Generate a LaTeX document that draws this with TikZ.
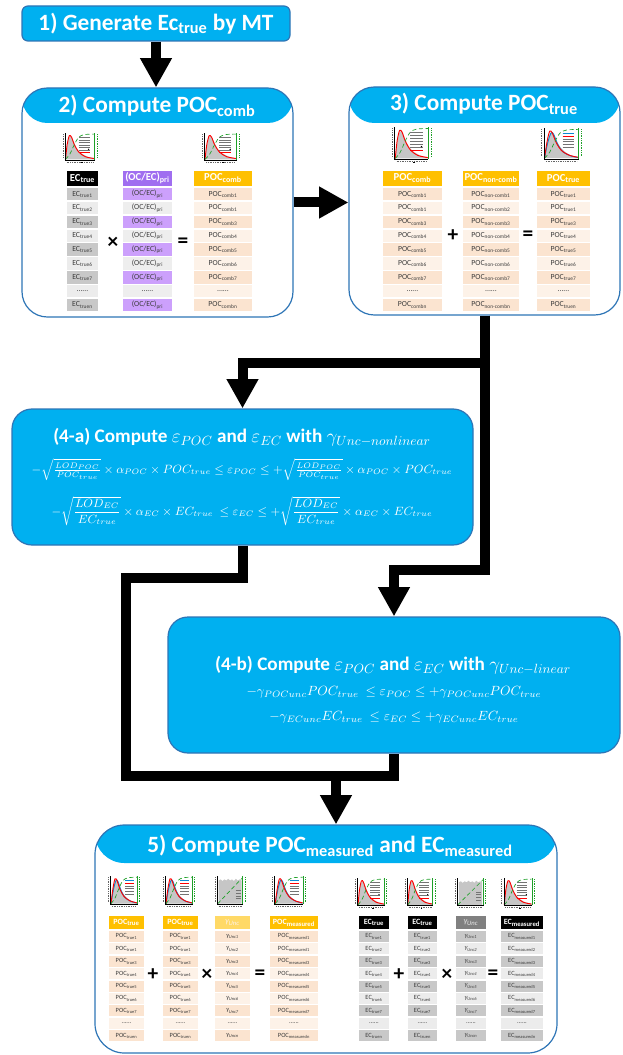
\documentclass[tikz,border=0pt]{standalone}
\usepackage{amsmath}
\usepackage{fontspec}
\setmainfont{Carlito}
\usetikzlibrary{arrows.meta}
\definecolor{cy}{RGB}{0,176,240}
\definecolor{bd}{RGB}{46,117,182}
\definecolor{org}{RGB}{255,192,0}
\definecolor{pch1}{RGB}{251,228,208}
\definecolor{pch2}{RGB}{253,242,232}
\definecolor{gr1}{RGB}{200,200,200}
\definecolor{gr2}{RGB}{236,236,236}
\definecolor{pu}{RGB}{160,110,240}
\definecolor{pu1}{RGB}{204,160,252}
\definecolor{pu2}{RGB}{238,238,238}
\definecolor{ylw}{RGB}{255,217,102}
\definecolor{dgr}{RGB}{128,128,128}
\definecolor{celltxt}{RGB}{60,60,60}
\definecolor{grn}{RGB}{30,160,40}
\newcommand\mysb[2]{#1\textsubscript{#2}}
\newcommand\gu[1]{\textit{γ\textsubscript{Unc#1}}}
\newcommand\dts{......}
\def\hdfont{\bfseries\fontsize{8}{9}\selectfont}
\def\cellfont{\fontsize{5.8}{6.5}\selectfont}
\def\hh{15}\def\gp{2}\def\pitch{13.85}\def\ch{12.5}
\tikzset{
 conn/.style={line width=7.5pt,draw=black},
 tipd/.style={-{Triangle[width=22.5pt,length=22pt]}},
 hdr/.style={inner sep=0,outer sep=0,text=white,font=\hdfont},
 cell/.style={inner sep=0,outer sep=0,text=celltxt,font=\cellfont},
 ttl/.style={text=white,font=\bfseries\fontsize{17.5}{20}\selectfont,inner sep=0},
 opr/.style={font=\bfseries\fontsize{16}{16}\selectfont,inner sep=0},
 bigbox/.style={draw=bd,line width=0.9pt,fill=white,inner sep=0},
 hband/.style={path picture={\fill[cy] (path picture bounding box.north west) rectangle ([yshift=-#1]path picture bounding box.north east);}},
 cybox/.style={draw=bd,fill=cy,line width=0.9pt,inner sep=0},
 eqn/.style={text=white,inner sep=0},
}
% column: name, xl, xr, ytop, header, rows
\newcommand\tcol[6]{%
 \pgfmathsetmacro\cw{(#3-#2)*0.75}%
 \pgfmathsetmacro\xc{(#2+#3)/2}%
 \pgfmathsetmacro\yh{#4+\hh/2}%
 \node[hdr,fill=\hdfill,text=\hdtxt,minimum width=\cw pt,minimum height=\hh*0.75pt] (#1-h) at (\xc,\yh) {#5};
 \foreach \rt [count=\ri] in {#6}{%
   \pgfmathsetmacro\yy{#4+\hh+\gp+(\ri-1)*\pitch+\ch/2}%
   \ifodd\ri\def\cf{\oddfill}\else\def\cf{\evenfill}\fi
   \node[cell,fill=\cf,minimum width=\cw pt,minimum height=\ch*0.75pt] (#1-\ri) at (\xc,\yy) {\rt};
 }%
}
% thumbnails: x y xscale yscale
\newcommand\thA[4]{\begin{scope}[shift={(#1,#2)},xscale=#3,yscale=#4]
 \fill[gray!45] plot[smooth] coordinates {(5,26) (6.5,14) (8,6) (10,4) (12,8) (15,15) (19,20) (25,23.5) (31,25)} -- (31,26) -- cycle;
 \draw[red,line width=0.7pt] plot[smooth] coordinates {(5,26) (6.5,12) (8.5,3.5) (10.5,5) (13,12) (17,19) (23,23.5) (31,25.3)};
 \draw[grn,densely dashed,line width=0.5pt] plot[smooth] coordinates {(5,26) (9,21) (13,12) (17,5) (22,2.5) (31,2)};
 \draw[line width=0.35pt] (4.5,1)--(4.5,26.5)--(31.5,26.5);
 \draw[grn,line width=0.7pt] (31.5,1)--(31.5,26.5);
 \foreach \k in {0,1,2,3,4,5}{\draw[black!55,line width=0.25pt] (17,5+2.4*\k)--(27,5+2.4*\k);}
 \draw[red,line width=0.4pt] (17,19.4)--(27,19.4);
 \fill (26,16.5) circle (0.5pt);
 \draw[grn,densely dotted,line width=0.3pt] (33.5,2)--(33.5,25);
 \draw[black!60,densely dotted,line width=0.3pt] (2.5,2)--(2.5,25);
 \draw[black!60,densely dotted,line width=0.3pt] (6,28.5)--(30,28.5);
 \fill (19,30) rectangle (20.5,28.5);
\end{scope}}
\newcommand\thB[4]{\begin{scope}[shift={(#1,#2)},xscale=#3,yscale=#4]
 \fill[gray!45] plot[smooth] coordinates {(5,26) (7,14) (9,6) (11,4) (13,8) (16,15) (20,20) (25,23.5) (31,25)} -- (31,26) -- cycle;
 \draw[cyan!70!blue,line width=0.7pt] plot[smooth] coordinates {(5,26) (7.5,13) (10,5) (12,6) (15,14) (19,20.5) (25,24) (31,25.5)};
 \draw[red,line width=0.7pt] plot[smooth] coordinates {(5,26) (7,12) (9,3.5) (11,5) (14,13) (18,19.5) (24,23.5) (31,25.3)};
 \draw[grn,densely dashed,line width=0.5pt] plot[smooth] coordinates {(5,26) (9,21) (13,12) (17,5) (22,2.5) (31,2)};
 \draw[line width=0.35pt] (4.5,1)--(4.5,26.5)--(31.5,26.5);
 \draw[grn,line width=0.7pt] (31.5,1)--(31.5,26.5);
 \foreach \k in {0,1,2,3,4,5}{\draw[black!55,line width=0.25pt] (19,5+2.4*\k)--(28,5+2.4*\k);}
 \draw[cyan!70!blue,line width=0.4pt] (19,5)--(28,5);
 \draw[red,line width=0.4pt] (19,7.4)--(28,7.4);
 \draw[grn,densely dotted,line width=0.3pt] (33.5,2)--(33.5,25);
 \draw[black!60,densely dotted,line width=0.3pt] (2.5,2)--(2.5,25);
 \draw[black!60,densely dotted,line width=0.3pt] (6,28.5)--(30,28.5);
\end{scope}}
\newcommand\thC[4]{\begin{scope}[shift={(#1,#2)},xscale=#3,yscale=#4]
 \fill[gray!45] (6,26) -- (6,5) -- (8,4) -- (10,5.5) -- (12,4) -- (14,5) -- (16,3.5) -- (18,5) -- (20,4) -- (22,5.5) -- (24,3.5) -- (26,5) -- (28,4) -- (30,5) -- (30,26) -- cycle;
 \draw[grn,densely dashed,line width=0.5pt] (5,26) -- (31,2.5);
 \draw[line width=0.35pt] (4.5,1)--(4.5,26.5)--(31.5,26.5);
 \draw[grn,line width=0.7pt] (31.5,1)--(31.5,26.5);
 \draw[grn,densely dotted,line width=0.3pt] (33.5,2)--(33.5,25);
 \draw[black!60,densely dotted,line width=0.3pt] (2.5,2)--(2.5,25);
 \draw[black!60,densely dotted,line width=0.3pt] (6,28.5)--(30,28.5);
 \foreach \k in {0,1,2,3}{\draw[black!55,line width=0.25pt] (24,14+2.4*\k)--(29,14+2.4*\k);}
\end{scope}}
\begin{document}
\begin{tikzpicture}[x=0.75pt,y=-0.75pt]
\useasboundingbox (0,0) rectangle (622,1055);
% ---------- boxes
\node[cybox,rounded corners=4.5pt,minimum width=268*0.75pt,minimum height=35*0.75pt,text=white,font=\bfseries\fontsize{17.5}{20}\selectfont] (b1) at (156,23.5) {1) Generate \mysb{Ec}{true} by MT};
\node[bigbox,rounded corners=19pt,hband=26.25pt,minimum width=271*0.75pt,minimum height=229*0.75pt] (b2) at (157.5,202.5) {};
\node[bigbox,rounded corners=19pt,hband=27pt,minimum width=271*0.75pt,minimum height=228*0.75pt] (b3) at (484.5,201) {};
\node[cybox,rounded corners=15pt,minimum width=461*0.75pt,minimum height=136*0.75pt] (b4a) at (242.5,477) {};
\node[cybox,rounded corners=15pt,minimum width=452*0.75pt,minimum height=136*0.75pt] (b4b) at (394,685) {};
\node[bigbox,rounded corners=22pt,hband=28.5pt,minimum width=462*0.75pt,minimum height=228*0.75pt] (b5) at (326,939) {};
% ---------- titles
\node[ttl] (t2) at (157,106) {2) Compute \mysb{POC}{comb}};
\node[ttl] (t3) at (484,104) {3) Compute \mysb{POC}{true}};
\node[ttl] (t5) at (330,846) {5) Compute \mysb{POC}{measured} and \mysb{EC}{measured}};
% ---------- connectors
\draw[conn,tipd] (b1.south) -- (b1.south |- b2.north);
\draw[conn,tipd] (b2.east) -- (b2.east -| b3.west);
\draw[conn] (b3.south) -- ++(0,47) coordinate (j1);
\draw[conn,tipd] (j1) -| (b4a.north);
\draw[conn,tipd] (b3.south) -- ++(0,254) coordinate (j2) -| (b4b.north);
\coordinate (k1) at (126,578);
\coordinate (k2) at (126,776);
\coordinate (k3) at (336,776);
\draw[conn] (b4a.south) |- (k1) -- (k2) -| (b4b.south);
\draw[conn,tipd] (k3) -- (k3 |- b5.north);
% ---------- box 2 content
\thA{60}{132}{1.1}{1.05}
\thA{199}{132}{1.2}{1.05}
\def\hdfill{black}\def\hdtxt{white}\def\oddfill{gr1}\def\evenfill{gr2}
\tcol{ec}{67}{98}{171}{\mysb{EC}{true}}{\mysb{EC}{true1},\mysb{EC}{true2},\mysb{EC}{true3},\mysb{EC}{true4},\mysb{EC}{true5},\mysb{EC}{true6},\mysb{EC}{true7},\dts,\mysb{EC}{truen}}
\def\hdfill{pu}\def\hdtxt{white}\def\oddfill{pu1}\def\evenfill{pu2}
\tcol{oc}{123}{172}{171}{(OC/EC)\textsubscript{pri}}{(OC/EC)\textsubscript{pri},(OC/EC)\textsubscript{pri},(OC/EC)\textsubscript{pri},(OC/EC)\textsubscript{pri},(OC/EC)\textsubscript{pri},(OC/EC)\textsubscript{pri},(OC/EC)\textsubscript{pri},\dts,(OC/EC)\textsubscript{pri}}
\def\hdfill{org}\def\hdtxt{white}\def\oddfill{pch1}\def\evenfill{pch2}
\tcol{pc}{194}{252}{171}{\mysb{POC}{comb}}{\mysb{POC}{comb1},\mysb{POC}{comb1},\mysb{POC}{comb3},\mysb{POC}{comb4},\mysb{POC}{comb5},\mysb{POC}{comb6},\mysb{POC}{comb7},\dts,\mysb{POC}{combn}}
\node[opr] (o21) at (113,243) {×};
\node[opr] (o22) at (183,243) {=};
% ---------- box 3 content
\thA{389}{126}{1.25}{1.25}
\thB{538}{127}{1.3}{1.2}
\tcol{pa}{383}{442}{171}{\mysb{POC}{comb}}{\mysb{POC}{comb1},\mysb{POC}{comb1},\mysb{POC}{comb3},\mysb{POC}{comb4},\mysb{POC}{comb5},\mysb{POC}{comb6},\mysb{POC}{comb7},\dts,\mysb{POC}{combn}}
\tcol{pb}{463}{519}{171}{\mysb{POC}{non-comb}}{\mysb{POC}{non-comb1},\mysb{POC}{non-comb2},\mysb{POC}{non-comb3},\mysb{POC}{non-comb4},\mysb{POC}{non-comb5},\mysb{POC}{non-comb6},\mysb{POC}{non-comb7},\dts,\mysb{POC}{non-combn}}
\tcol{pt}{537}{590}{171}{\mysb{POC}{true}}{\mysb{POC}{true1},\mysb{POC}{true1},\mysb{POC}{true3},\mysb{POC}{true4},\mysb{POC}{true5},\mysb{POC}{true6},\mysb{POC}{true7},\dts,\mysb{POC}{truen}}
\node[opr] (o31) at (453,236) {+};
\node[opr] (o32) at (528,236) {=};
% ---------- box 4-a
\node[eqn,font=\bfseries\fontsize{14.4}{16}\selectfont] (t4a) at (242,437) {(4-a) Compute $\varepsilon_{POC}$ and $\varepsilon_{EC}$ with $\gamma_{Unc-nonlinear}$};
\node[eqn,font=\fontsize{9}{11}\selectfont] (e4a1) at (242,470) {$-\sqrt{\tfrac{LOD_{POC}}{POC_{true}}}\times\alpha_{POC}\times POC_{true}\le\varepsilon_{POC}\le+\sqrt{\tfrac{LOD_{POC}}{POC_{true}}}\times\alpha_{POC}\times POC_{true}$};
\node[eqn,font=\fontsize{9}{11}\selectfont] (e4a2) at (242,511) {$-\sqrt{\dfrac{LOD_{EC}}{EC_{true}}}\times\alpha_{EC}\times EC_{true}\ \le\varepsilon_{EC}\le+\sqrt{\dfrac{LOD_{EC}}{EC_{true}}}\times\alpha_{EC}\times EC_{true}$};
% ---------- box 4-b
\node[eqn,font=\bfseries\fontsize{14.4}{16}\selectfont] (t4b) at (393,665) {(4-b) Compute $\varepsilon_{POC}$ and $\varepsilon_{EC}$ with $\gamma_{Unc-linear}$};
\node[eqn,font=\fontsize{10}{12}\selectfont] (e4b1) at (394,692) {$-\gamma_{POCunc}POC_{true}\ \le\varepsilon_{POC}\le+\gamma_{POCunc}POC_{true}$};
\node[eqn,font=\fontsize{10}{12}\selectfont] (e4b2) at (394,717) {$-\gamma_{ECunc}EC_{true}\ \le\varepsilon_{EC}\le+\gamma_{ECunc}EC_{true}$};
% ---------- box 5 content
\def\hdfont{\bfseries\fontsize{6}{7}\selectfont}
\def\cellfont{\fontsize{4.8}{5.4}\selectfont}
\def\hh{13}\def\gp{2}\def\pitch{12.4}\def\ch{11}
\thB{106}{875}{1.0}{1.1}
\thB{161}{875}{1.0}{1.1}
\thC{213}{875}{0.95}{1.1}
\thB{270}{875}{1.05}{1.1}
\thA{353}{877}{1.0}{1.07}
\thA{403}{877}{0.95}{1.07}
\thC{453}{877}{0.97}{1.07}
\thA{499}{877}{1.05}{1.07}
\def\hdfill{org}\def\hdtxt{white}\def\oddfill{pch1}\def\evenfill{pch2}
\tcol{q1}{109}{144}{916}{\mysb{POC}{true}}{\mysb{POC}{true1},\mysb{POC}{true1},\mysb{POC}{true3},\mysb{POC}{true4},\mysb{POC}{true5},\mysb{POC}{true6},\mysb{POC}{true7},\dts,\mysb{POC}{truen}}
\tcol{q2}{163}{198}{916}{\mysb{POC}{true}}{\mysb{POC}{true1},\mysb{POC}{true1},\mysb{POC}{true3},\mysb{POC}{true4},\mysb{POC}{true5},\mysb{POC}{true6},\mysb{POC}{true7},\dts,\mysb{POC}{truen}}
\def\hdfill{ylw}\def\hdtxt{pch2}
\tcol{q3}{215}{250}{916}{\mdseries\gu{}}{\gu{1},\gu{2},\gu{3},\gu{4},\gu{5},\gu{6},\gu{7},\dts,\gu{n}}
\def\hdfill{org}\def\hdtxt{white}
\tcol{q4}{270}{318}{916}{\mysb{POC}{measured}}{\mysb{POC}{measured1},\mysb{POC}{measured1},\mysb{POC}{measured3},\mysb{POC}{measured4},\mysb{POC}{measured5},\mysb{POC}{measured6},\mysb{POC}{measured7},\dts,\mysb{POC}{measuredn}}
\def\hdfill{black}\def\hdtxt{white}\def\oddfill{gr1}\def\evenfill{gr2}
\tcol{r1}{359}{389}{916}{\mysb{EC}{true}}{\mysb{EC}{true1},\mysb{EC}{true2},\mysb{EC}{true3},\mysb{EC}{true4},\mysb{EC}{true5},\mysb{EC}{true6},\mysb{EC}{true7},\dts,\mysb{EC}{truen}}
\tcol{r2}{408}{437}{916}{\mysb{EC}{true}}{\mysb{EC}{true1},\mysb{EC}{true2},\mysb{EC}{true3},\mysb{EC}{true4},\mysb{EC}{true5},\mysb{EC}{true6},\mysb{EC}{true7},\dts,\mysb{EC}{truen}}
\def\hdfill{dgr}\def\hdtxt{gr2}
\tcol{r3}{456}{486}{916}{\mdseries\gu{}}{\gu{1},\gu{2},\gu{3},\gu{4},\gu{5},\gu{6},\gu{7},\dts,\gu{n}}
\def\hdfill{black}\def\hdtxt{white}
\tcol{r4}{501}{543}{916}{\mysb{EC}{measured}}{\mysb{EC}{measured1},\mysb{EC}{measured2},\mysb{EC}{measured3},\mysb{EC}{measured4},\mysb{EC}{measured5},\mysb{EC}{measured6},\mysb{EC}{measured7},\dts,\mysb{EC}{measuredn}}
\node[opr] (o51) at (153,975) {+};
\node[opr] (o52) at (207,975) {×};
\node[opr] (o53) at (260,975) {=};
\node[opr] (o54) at (399,975) {+};
\node[opr] (o55) at (447,975) {×};
\node[opr] (o56) at (493,975) {=};
\end{tikzpicture}
\end{document}
